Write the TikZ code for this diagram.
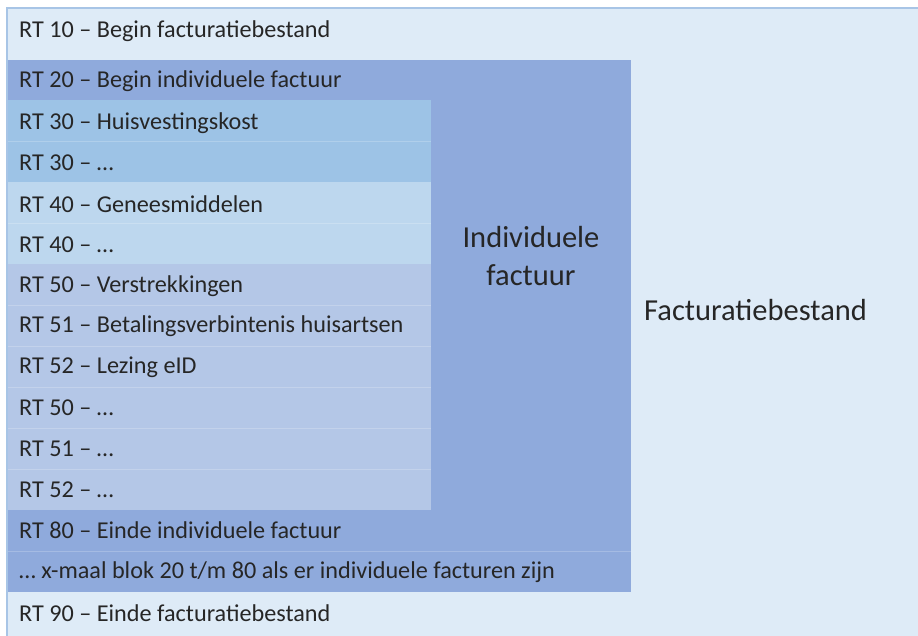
\documentclass[tikz,border=0pt]{standalone}
\usepackage{fontspec}
\setmainfont{Carlito}
\definecolor{outerc}{HTML}{DEEBF7}
\definecolor{borderc}{HTML}{A8C5E6}
\definecolor{indivc}{HTML}{8FAADC}
\definecolor{rtthirty}{HTML}{9DC3E6}
\definecolor{rtforty}{HTML}{BDD7EE}
\definecolor{rtfifty}{HTML}{B4C7E7}
\definecolor{txtc}{HTML}{262626}
\tikzset{
  rowtext/.style={anchor=west, inner sep=0pt, text=txtc, font=\fontsize{24.2}{26}\selectfont},
  bigtext/.style={inner sep=0pt, text=txtc, font=\fontsize{30.5}{38}\selectfont, align=center},
  sepline/.style={draw=white, draw opacity=0.2, line width=1pt}
}
\begin{document}
\begin{tikzpicture}[x=1pt,y=-1pt]
\useasboundingbox (0,0) rectangle (918,635);
\fill[white] (0,0) rectangle (918,635);
% outer file box
\filldraw[fill=outerc, draw=borderc, line width=1.2pt] (7,8) rectangle (930,645);
% individual invoice block
\fill[indivc] (7,60) rectangle (631,592);
% inner groups
\fill[rtthirty] (7,100) rectangle (431,182);
\fill[rtforty] (7,182) rectangle (431,264);
\fill[rtfifty] (7,264) rectangle (431,510);
% separators
\foreach \yy in {141,223,305,346,387,428,469}
  \draw[sepline] (7,\yy) -- (431,\yy);
\draw[sepline] (7,551) -- (631,551);
\draw[draw=borderc, line width=1.2pt] (7,8) -- (7,635);
% texts
\node[rowtext] (r10) at (19,31) {RT 10 – Begin facturatiebestand};
\node[rowtext] (r20) at (19,81) {RT 20 – Begin individuele factuur};
\node[rowtext] (r30a) at (19,123) {RT 30 – Huisvestingskost};
\node[rowtext] (r30b) at (19,163) {RT 30 – …};
\node[rowtext] (r40a) at (19,204) {RT 40 – Geneesmiddelen};
\node[rowtext] (r40b) at (19,245) {RT 40 – …};
\node[rowtext] (r50a) at (19,286) {RT 50 – Verstrekkingen};
\node[rowtext] (r51a) at (19,326) {RT 51 – Betalingsverbintenis huisartsen};
\node[rowtext] (r52a) at (19,367) {RT 52 – Lezing eID};
\node[rowtext] (r50b) at (19,408) {RT 50 – …};
\node[rowtext] (r51b) at (19,449) {RT 51 – …};
\node[rowtext] (r52b) at (19,490) {RT 52 – …};
\node[rowtext] (r80) at (19,530) {RT 80 – Einde individuele factuur};
\node[rowtext] (rx) at (19,572) {… x-maal blok 20 t/m 80 als er individuele facturen zijn};
\node[rowtext] (r90) at (19,613) {RT 90 – Einde facturatiebestand};
\node[bigtext] (indiv) at (531,256) {Individuele\\factuur};
\node[bigtext, anchor=west] (fact) at (644,310) {Facturatiebestand};
\end{tikzpicture}
\end{document}
